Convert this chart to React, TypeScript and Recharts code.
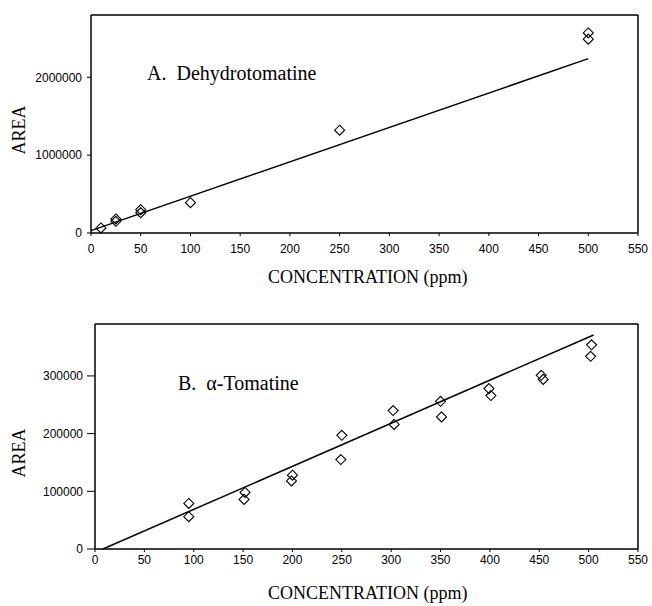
import React from 'react';
import { ScatterChart, Scatter, XAxis, YAxis, ReferenceLine } from 'recharts';

// A. Dehydrotomatine
const dehydroConc = [10, 25, 25, 50, 50, 100, 250, 500, 500];
const dehydroArea = [65000, 150000, 180000, 260000, 300000, 390000, 1320000, 2490000, 2570000];
const dehydroFitConc = [0, 500];
const dehydroFitArea = [30000, 2240000];
const dehydroYTicks = [0, 1000000, 2000000];

// B. alpha-Tomatine
const tomatineConc = [95, 95, 152, 151, 200, 199, 250, 249, 302, 303, 350, 351, 399, 401, 452, 454, 503, 502];
const tomatineArea = [79000, 56000, 98000, 86000, 128000, 118000, 197000, 155000, 240000, 216000, 256000, 229000, 278000, 266000, 301000, 294000, 354000, 334000];
const tomatineFitConc = [8, 505];
const tomatineFitArea = [0, 371000];
const tomatineYTicks = [0, 100000, 200000, 300000];

const xTicks = [0, 50, 100, 150, 200, 250, 300, 350, 400, 450, 500, 550];

const zip = (xs: number[], ys: number[]) => xs.map((x, i) => ({ x, y: ys[i] }));

const sans = 'Liberation Sans, Arial, sans-serif';
const serif = 'Liberation Serif, Times New Roman, serif';

const Diamond = (props: any) => {
  const { cx, cy } = props;
  if (cx == null || cy == null) return null;
  const r = 5;
  return (
    <path
      d={`M${cx},${cy - r} L${cx + r},${cy} L${cx},${cy + r} L${cx - r},${cy} Z`}
      fill="none"
      stroke="#000"
      strokeWidth={1.1}
    />
  );
};

const NoShape = () => null;

interface PanelProps {
  top: number;
  height: number;
  marginTop: number;
  yWidth: number;
  xHeight: number;
  yMax: number;
  yTicks: number[];
  yTickSize: number;
  yTickMargin: number;
  xTickSize: number;
  xTickMargin: number;
  points: { x: number; y: number }[];
  fit: { x: number; y: number }[];
}

const Panel: React.FC<PanelProps> = (p) => (
  <div style={{ position: 'absolute', left: 0, top: p.top }}>
    <ScatterChart width={652} height={p.height} margin={{ top: p.marginTop, right: 14, left: 0, bottom: 0 }}>
      <XAxis
        type="number"
        dataKey="x"
        domain={[0, 550]}
        ticks={xTicks}
        interval={0}
        height={p.xHeight}
        tickSize={p.xTickSize}
        tickMargin={p.xTickMargin}
        axisLine={{ stroke: '#000', strokeWidth: 1.5 }}
        tickLine={{ stroke: '#000' }}
        tick={{ fill: '#000', fontSize: 12, fontFamily: sans }}
      />
      <YAxis
        type="number"
        dataKey="y"
        domain={[0, p.yMax]}
        ticks={p.yTicks}
        interval={0}
        width={p.yWidth}
        tickSize={p.yTickSize}
        tickMargin={p.yTickMargin}
        axisLine={{ stroke: '#000', strokeWidth: 1.5 }}
        tickLine={{ stroke: '#000' }}
        tick={{ fill: '#000', fontSize: 12, fontFamily: sans }}
      />
      <ReferenceLine y={p.yMax} stroke="#000" strokeWidth={1.5} />
      <ReferenceLine x={550} stroke="#000" strokeWidth={1.5} />
      <Scatter
        data={p.fit}
        line={{ stroke: '#000', strokeWidth: 1.5 }}
        shape={NoShape}
        isAnimationActive={false}
      />
      <Scatter data={p.points} shape={Diamond} isAnimationActive={false} />
    </ScatterChart>
  </div>
);

const label = (text: string, left: number, top: number, size: number, extra: React.CSSProperties = {}) => (
  <div
    style={{
      position: 'absolute',
      left,
      top,
      fontFamily: serif,
      fontSize: size,
      lineHeight: `${size}px`,
      color: '#000',
      whiteSpace: 'pre',
      ...extra,
    }}
  >
    {text}
  </div>
);

export default function App() {
  return (
    <div style={{ position: 'absolute', left: 0, top: 0, width: 652, height: 606, background: '#fff' }}>
      <Panel
        top={0}
        height={260}
        marginTop={15}
        yWidth={91}
        xHeight={27}
        yMax={2800000}
        yTicks={dehydroYTicks}
        yTickSize={4}
        yTickMargin={5}
        xTickSize={3}
        xTickMargin={8}
        points={zip(dehydroConc, dehydroArea)}
        fit={zip(dehydroFitConc, dehydroFitArea)}
      />
      <Panel
        top={300}
        height={306}
        marginTop={24}
        yWidth={95}
        xHeight={57}
        yMax={390000}
        yTicks={tomatineYTicks}
        yTickSize={8}
        yTickMargin={4}
        xTickSize={3}
        xTickMargin={3}
        points={zip(tomatineConc, tomatineArea)}
        fit={zip(tomatineFitConc, tomatineFitArea)}
      />

      {label('A.  Dehydrotomatine', 147, 63, 20)}
      {label('B.  α-Tomatine', 178, 373, 20)}

      {label('CONCENTRATION (ppm)', 268, 268, 18)}
      {label('CONCENTRATION (ppm)', 268, 584, 18)}

      {label('AREA', 19, 130, 18, { transform: 'translate(-50%, -50%) rotate(-90deg)' })}
      {label('AREA', 19, 453, 18, { transform: 'translate(-50%, -50%) rotate(-90deg)' })}
    </div>
  );
}
